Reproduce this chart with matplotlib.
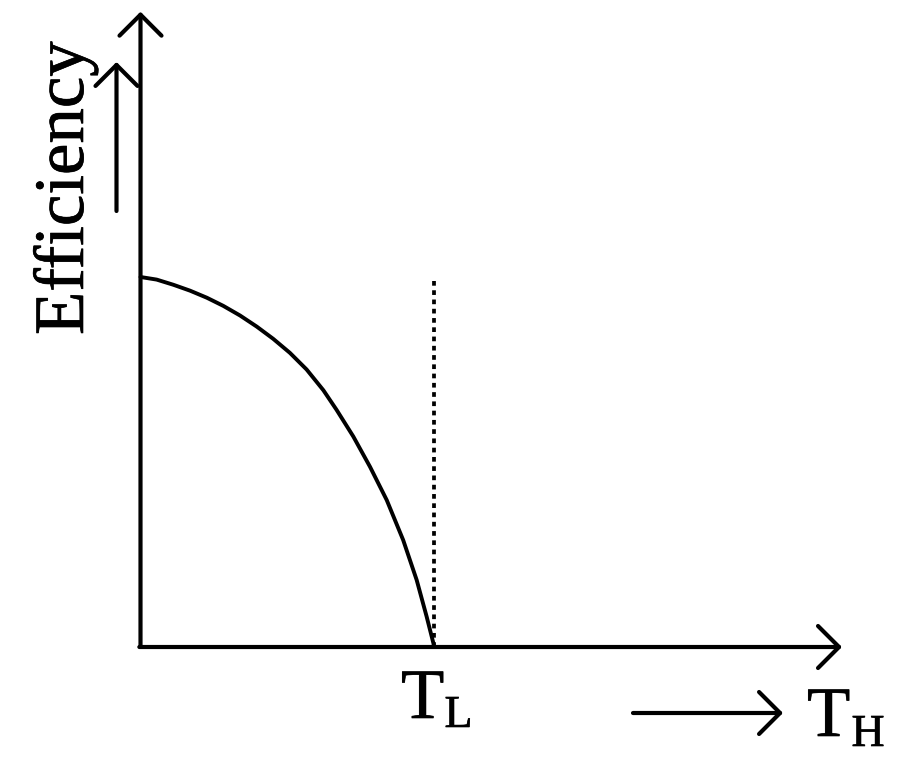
import matplotlib
matplotlib.use("Agg")
import matplotlib.pyplot as plt
import matplotlib.patheffects as pe

# ---- data (normalised: T_H / T_L on x, efficiency / max efficiency on y)
th_ratio = [0.0, 0.055, 0.112, 0.169, 0.226, 0.282, 0.339, 0.396, 0.452,
            0.509, 0.566, 0.623, 0.668, 0.725, 0.782, 0.839, 0.895, 0.941,
            0.975, 0.998, 1.0]
efficiency = [1.0, 0.993, 0.979, 0.963, 0.944, 0.922, 0.896, 0.866, 0.833,
              0.795, 0.750, 0.694, 0.641, 0.569, 0.487, 0.397, 0.289, 0.181,
              0.082, 0.010, 0.0]
TL = 1.0
dotted_top = 0.989
y_label = "Efficiency"
tl_main, tl_sub = "T", "L"
th_main, th_sub = "T", "H"

# ---- layout
W, H = 900, 766
fig = plt.figure(figsize=(W / 100, H / 100), dpi=100)
ax = fig.add_axes([0, 0, 1, 1])
ax.set_xlim(-140.5 / 293.5, 759.5 / 293.5)
ax.set_ylim(-119 / 370, 647 / 370)
ax.axis("off")

def fx(px):
    return px / W

def fy(py):
    return 1 - py / H

serif = "Liberation Serif"
heavy = [pe.withStroke(linewidth=0.45, foreground="black")]
arrow_kw = dict(arrowstyle="->,head_length=0.756,head_width=0.756",
                mutation_scale=20, shrinkA=0, shrinkB=0, lw=3.0,
                color="black")

# axes with open arrowheads
ax.annotate("", xy=(0, 1.717), xytext=(0, 0), xycoords="data",
            arrowprops=arrow_kw)
ax.annotate("", xy=(2.390, 0), xytext=(-0.004, 0), xycoords="data",
            arrowprops=arrow_kw)

# curve
ax.plot(th_ratio, efficiency, color="black", lw=2.8,
        solid_capstyle="round", solid_joinstyle="round")

# dotted vertical line at T_L
ax.plot([TL, TL], [dotted_top, 0], color="black", lw=2.7,
        linestyle=(0, (1.25, 1.22)), dash_capstyle="butt")

# Efficiency label and its arrow
fig.text(fx(83), fy(335), y_label, rotation=90, rotation_mode="anchor",
         ha="left", va="baseline", fontsize=51, family=serif,
         path_effects=heavy)
ax.annotate("", xy=(fx(116.5), fy(62)), xytext=(fx(116.5), fy(211)),
            xycoords="figure fraction", textcoords="figure fraction",
            arrowprops=arrow_kw)

# T_L label
fig.text(fx(401), fy(718), tl_main, ha="left", va="baseline",
         fontsize=51, family=serif, path_effects=heavy)
fig.text(fx(444.5), fy(727), tl_sub, ha="left", va="baseline",
         fontsize=33, family=serif, path_effects=heavy)

# T_H label with arrow
ax.annotate("", xy=(fx(783), fy(713)), xytext=(fx(633), fy(713)),
            xycoords="figure fraction", textcoords="figure fraction",
            arrowprops=arrow_kw)
fig.text(fx(807), fy(736), th_main, ha="left", va="baseline",
         fontsize=51, family=serif, path_effects=heavy)
fig.text(fx(851.5), fy(746), th_sub, ha="left", va="baseline",
         fontsize=33, family=serif, path_effects=heavy)

fig.savefig("out.png", dpi=100, facecolor="white")
